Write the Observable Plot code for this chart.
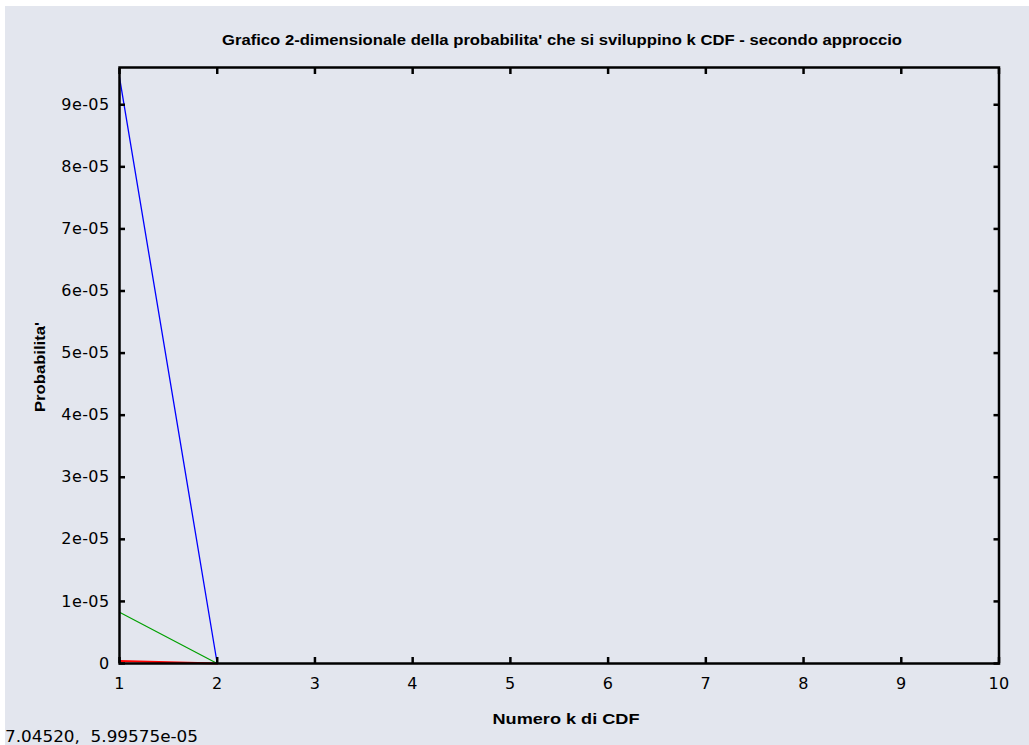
<!DOCTYPE html>
<html>
<head>
<meta charset="utf-8">
<script src="https://cdn.jsdelivr.net/npm/d3@7"></script>
<script src="https://cdn.jsdelivr.net/npm/@observablehq/plot@0.6"></script>
<style>
html, body { margin: 0; padding: 0; background: #ffffff; }
#wrap { position: relative; width: 1029px; height: 745px; overflow: hidden; }
#bg { position: absolute; left: 5px; top: 6px; right: 0; bottom: 0; background: #e3e6ee; }
#wrap svg { position: absolute; left: 0; top: 0; }
#wrap svg text { letter-spacing: 0.4px; }
.t { position: absolute; white-space: pre; color: #000; line-height: 1; }
</style>
</head>
<body>
<div id="wrap"><div id="bg"></div></div>
<script>
// ---- data ----
const titleText = "Grafico 2-dimensionale della probabilita' che si sviluppino k CDF - secondo approccio";
const xLabelText = "Numero k di CDF";
const yLabelText = "Probabilita'";
const statusText = "7.04520,  5.99575e-05";

const xTicks = [1, 2, 3, 4, 5, 6, 7, 8, 9, 10];
const xTickLabels = ["1", "2", "3", "4", "5", "6", "7", "8", "9", "10"];
const yTicks = [0, 1e-5, 2e-5, 3e-5, 4e-5, 5e-5, 6e-5, 7e-5, 8e-5, 9e-5];
const yTickLabels = ["0", "1e-05", "2e-05", "3e-05", "4e-05", "5e-05", "6e-05", "7e-05", "8e-05", "9e-05"];

const kValues = [1, 2];
const blueSeries = [9.44e-5, 0];
const greenSeries = [8.27e-6, 0];
const redSeries = [4.0e-7, 0];

const xDomain = [1, 10];
const yDomain = [0, 9.6e-5];

// ---- build rows ----
const toRows = (vals) => kValues.map((k, i) => ({k, p: vals[i]}));
const blueRows = toRows(blueSeries);
const greenRows = toRows(greenSeries);
const redRows = toRows(redSeries);

const tickFont = "'DejaVu Sans', sans-serif";
const chart = Plot.plot({
  width: 1029,
  height: 745,
  marginLeft: 119,
  marginRight: 30.5,
  marginTop: 67,
  marginBottom: 82,
  style: {background: "transparent", fontFamily: tickFont, fontSize: "16px", color: "#000", overflow: "visible"},
  x: {domain: xDomain, label: null},
  y: {domain: yDomain, label: null},
  marks: [
    Plot.line(redRows, {x: "k", y: "p", stroke: "#ff0000", strokeWidth: 1.8}),
    Plot.line(greenRows, {x: "k", y: "p", stroke: "#00a000", strokeWidth: 1.2}),
    Plot.line(blueRows, {x: "k", y: "p", stroke: "#0000ff", strokeWidth: 1.3}),
    Plot.frame({stroke: "#000", strokeWidth: 2.5}),
    Plot.axisX(xTicks, {anchor: "bottom", tickSize: -6, strokeWidth: 2.5, fill: "none", label: null}),
    Plot.axisX(xTicks, {anchor: "top", tickSize: -6, strokeWidth: 2.5, fill: "none", label: null}),
    Plot.axisY(yTicks, {anchor: "left", tickSize: -6, strokeWidth: 2.5, fill: "none", label: null}),
    Plot.axisY(yTicks, {anchor: "right", tickSize: -6, strokeWidth: 2.5, fill: "none", label: null}),
    Plot.axisX(xTicks, {anchor: "bottom", tickSize: 0, tickPadding: 14, label: null,
      tickFormat: (d, i) => xTickLabels[i]}),
    Plot.axisY(yTicks, {anchor: "left", tickSize: 0, tickPadding: 10, label: null,
      tickFormat: (d, i) => yTickLabels[i]})
  ]
});
const wrap = document.getElementById("wrap");
wrap.appendChild(chart);

// ---- text placed around the chart ----
const canvas = document.createElement("canvas");
const ctx = canvas.getContext("2d");
function place(text, {cx, cy, w, size, weight, family, rotate = 0, leftAlign = false}) {
  const font = `${weight} ${size}px ${family}`;
  ctx.font = font;
  const m = ctx.measureText(text).width;
  const s = w / m;
  const el = document.createElement("div");
  el.className = "t";
  el.textContent = text;
  el.style.font = font;
  el.style.lineHeight = "1";
  el.style.left = cx + "px";
  el.style.top = cy + "px";
  if (leftAlign) {
    el.style.transformOrigin = "0 0";
    el.style.transform = `translate(0, -50%) scaleX(${s})`;
  } else {
    el.style.transform = `translate(-50%, -50%) rotate(${rotate}deg) scaleX(${s})`;
  }
  wrap.appendChild(el);
}
const labelFamily = "'Liberation Sans', Arial, sans-serif";
place(titleText, {cx: 562, cy: 39, w: 680, size: 15, weight: "bold", family: labelFamily});
place(xLabelText, {cx: 566, cy: 717.5, w: 147, size: 15, weight: "bold", family: labelFamily});
place(yLabelText, {cx: 39, cy: 367, w: 90, size: 15, weight: "bold", family: labelFamily, rotate: -90});
place(statusText, {cx: 5, cy: 737, w: 193, size: 15, weight: "normal", family: tickFont, leftAlign: true});
</script>
</body>
</html>
